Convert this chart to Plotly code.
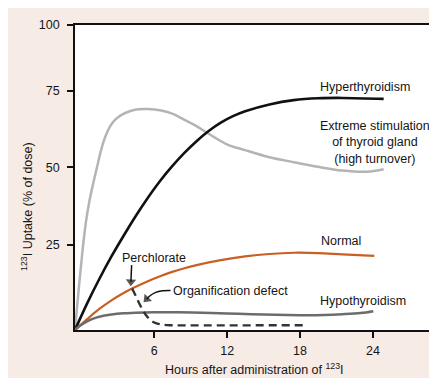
import plotly.graph_objects as go

# Hours (axis units: plot corner = 0) and uptake (% of dose)
hyper_x = [0, 1, 2, 3, 4, 5, 6, 7, 8, 9, 10, 11, 12, 13, 14, 16, 18, 20, 22, 25.4]
hyper_y = [0, 8.6, 16.5, 23.8, 30.5, 36.9, 42.8, 48.2, 53.0, 57.3, 61.1, 64.4, 67.1, 69.2, 70.8, 73.0, 74.4, 75.0, 75.1, 74.8]

extreme_x = [0, 0.3, 0.6, 0.9, 1.2, 1.5, 1.8, 2.1, 2.4, 2.7, 3.0, 3.4, 3.9, 4.5, 5.2, 6.0, 7.0, 8.0,
             9.0, 10.0, 11.0, 12.5, 14, 16, 18, 20, 22, 24, 25.4]
extreme_y = [0, 13, 25, 35, 42, 47.5, 52.5, 57.5, 61.5, 64.5, 66.6, 68.4, 69.8, 70.8, 71.4, 71.5, 71.1, 70.0,
             68.0, 66.0, 63.5, 60.1, 58.2, 55.9, 54.3, 52.8, 51.6, 51.2, 52.0]

normal_x = [0, 1, 2, 3, 4, 5, 6, 7, 8, 9, 10, 12, 14, 16, 18, 20, 22, 24.63]
normal_y = [0, 3.5, 6.8, 9.6, 12.0, 14.0, 15.8, 17.4, 18.8, 20.0, 21.0, 22.6, 23.8, 24.6, 25.0, 24.9, 24.5, 24.0]

hypo_x = [0, 0.5, 1, 1.5, 2, 3, 4, 5, 6.5, 8.5, 10.5, 12.5, 14.5, 16.5, 18.5, 20.5, 22, 23.5, 24.55]
hypo_y = [0, 1.6, 2.8, 3.7, 4.3, 5.0, 5.4, 5.6, 5.75, 5.75, 5.6, 5.35, 5.1, 4.9, 4.8, 4.85, 5.1, 5.5, 6.1]

organ_x = [4.7, 5.0, 5.3, 5.6, 5.9, 6.2, 6.6, 7.1, 7.8, 9.0, 12.5, 18.9]
organ_y = [13.4, 11.0, 8.5, 6.3, 4.5, 3.2, 2.3, 1.8, 1.55, 1.5, 1.5, 1.55]

# pointers (tail ... head)
perch_ptr_x = [4.66, 4.6]
perch_ptr_y = [21.0, 15.6]
organ_ptr_x = [7.86, 7.2, 6.6, 6.15, 5.9]
organ_ptr_y = [12.8, 12.7, 12.1, 11.0, 10.0]

x_tick_pos = [6.52, 12.52, 18.52, 24.52]
x_tick_text = ["6", "12", "18", "24"]
y_tick_pos = [27.6, 52.6, 77.5, 98.7]
y_tick_text = ["25", "50", "75", "100"]

FONT = "Liberation Sans, Arial, Helvetica, sans-serif"
TXT = "#151515"

fig = go.Figure()

def add_line(x, y, color, width, dash=None):
    fig.add_trace(go.Scatter(
        x=x, y=y, mode="lines",
        line=dict(color=color, width=width, shape="spline", smoothing=1.0, dash=dash),
        showlegend=False, hoverinfo="skip"))

def add_pointer(x, y):
    n = len(x)
    fig.add_trace(go.Scatter(
        x=x, y=y, mode="lines+markers",
        line=dict(color="#111111", width=1.5, shape="spline", smoothing=1.0),
        marker=dict(symbol="triangle-up", angleref="previous",
                    size=[0] * (n - 1) + [9], color="#111111", line=dict(width=0)),
        showlegend=False, hoverinfo="skip"))

add_line(extreme_x, extreme_y, "#b4b4b4", 2.5)
add_line(hyper_x, hyper_y, "#111111", 2.6)
add_line(normal_x, normal_y, "#c95f22", 2.2)
add_line(hypo_x, hypo_y, "#6c6c6c", 2.5)
add_line(organ_x, organ_y, "#333333", 2.4, dash="8px,5px")
add_pointer(perch_ptr_x, perch_ptr_y)
add_pointer(organ_ptr_x, organ_ptr_y)

labels = [
    ("Hyperthyroidism", 23.9, 78.6),
    ("Extreme stimulation<br>of thyroid gland<br>(high turnover)", 24.7, 60.7),
    ("Normal", 21.85, 28.8),
    ("Hypothyroidism", 23.7, 9.3),
    ("Perchlorate", 6.5, 23.2),
    ("Organification defect", 12.77, 12.5),
]
for txt, x, y in labels:
    fig.add_annotation(x=x, y=y, xref="x", yref="y", text=txt, showarrow=False,
                       font=dict(family=FONT, size=12.5, color=TXT),
                       align="center", xanchor="center", yanchor="middle")

# axis titles
fig.add_annotation(x=(18 - 67) / 360, y=(322 - 197) / 309, xref="paper", yref="paper",
                   text="<sup>123</sup>I Uptake (% of dose)", textangle=-90, showarrow=False,
                   font=dict(family=FONT, size=12.5, color=TXT),
                   xanchor="center", yanchor="middle")
fig.add_annotation(x=0.5, y=(322 - 362) / 309, xref="paper", yref="paper",
                   text="Hours after administration of <sup>123</sup>I", showarrow=False,
                   font=dict(family=FONT, size=12.5, color=TXT),
                   xanchor="center", yanchor="middle")

axis_common = dict(showline=True, linecolor="#111111", linewidth=1.6, mirror=True,
                   ticks="outside", ticklen=6, tickwidth=1.5, tickcolor="#111111",
                   showgrid=False, zeroline=False, fixedrange=True,
                   tickfont=dict(family=FONT, size=12.5, color=TXT))

fig.update_xaxes(range=[0, 29.46], tickmode="array", tickvals=x_tick_pos, ticktext=x_tick_text,
                 ticklabelstandoff=2, **axis_common)
fig.update_yaxes(range=[0, 98.7], tickmode="array", tickvals=y_tick_pos, ticktext=y_tick_text,
                 ticklabelstandoff=5, **axis_common)

fig.update_layout(width=437, height=378, margin=dict(l=67, r=10, t=13, b=56),
                  paper_bgcolor="#f7ebe5", plot_bgcolor="#ffffff",
                  font=dict(family=FONT))

fig.write_html("out.html")
